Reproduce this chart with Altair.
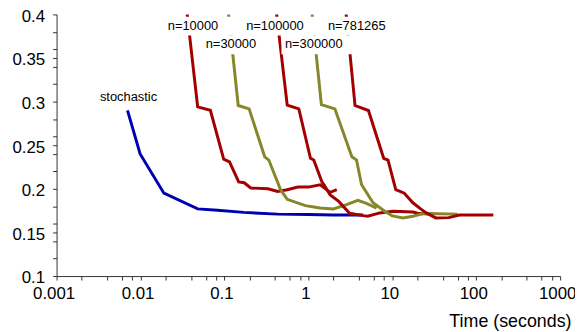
import altair as alt
import pandas as pd

# ---- data -------------------------------------------------------------
series_names = ["stochastic", "n=10000", "n=30000", "n=100000", "n=300000", "n=781265"]
series_colors = ["#0000b0", "#a30000", "#86862a", "#a30000", "#86862a", "#a30000"]

stoch_t = [0.007, 0.0099, 0.019, 0.048, 0.083, 0.17, 0.43, 1.0, 2.0, 4.5]
stoch_v = [0.290, 0.240, 0.195, 0.177, 0.1754, 0.173, 0.171, 0.1705, 0.170, 0.170]

n10k_t = [0.036, 0.048, 0.068, 0.098, 0.115, 0.148, 0.172, 0.206, 0.33, 0.43, 0.56, 0.75, 1.0, 1.38, 1.5, 1.82, 2.18]
n10k_v = [0.400, 0.294, 0.290, 0.234, 0.231, 0.208, 0.207, 0.201, 0.200, 0.197, 0.199, 0.202, 0.202, 0.2045, 0.202, 0.196, 0.199]

n30k_t = [0.112, 0.146, 0.197, 0.302, 0.338, 0.467, 0.56, 0.92, 1.38, 1.99, 2.85, 3.9, 5.0, 6.5]
n30k_v = [0.400, 0.2955, 0.2917, 0.2367, 0.233, 0.199, 0.188, 0.1807, 0.178, 0.177, 0.1818, 0.1867, 0.183, 0.178]

n100k_t = [0.419, 0.56, 0.77, 1.06, 1.16, 1.45, 1.55, 1.82, 2.3, 3.1, 4.5, 5.1, 7.1, 10.2, 17.6, 21.0, 28.0]
n100k_v = [0.400, 0.296, 0.2917, 0.235, 0.233, 0.208, 0.204, 0.193, 0.1856, 0.172, 0.1693, 0.1686, 0.1724, 0.1744, 0.1735, 0.1716, 0.171]

n300k_t = [1.107, 1.43, 2.07, 3.3, 3.75, 4.3, 4.7, 5.9, 8.2, 10.0, 13.4, 17.6, 24.0, 35.0, 60.0]
n300k_v = [0.400, 0.2966, 0.2917, 0.2367, 0.233, 0.205, 0.199, 0.184, 0.174, 0.169, 0.1667, 0.1686, 0.172, 0.1715, 0.171]

n781k_t = [2.82, 3.6, 5.2, 7.9, 8.9, 11.0, 13.9, 17.6, 21.8, 25.4, 33.0, 47.0, 63.0, 90.0, 160.0]
n781k_v = [0.400, 0.2955, 0.2898, 0.235, 0.233, 0.199, 0.195, 0.184, 0.177, 0.1724, 0.1667, 0.167, 0.170, 0.170, 0.170]

label_text = ["stochastic", "n=10000", "n=30000", "n=100000", "n=300000", "n=781265"]
label_t = [0.0072, 0.0422, 0.1196, 0.40, 1.16, 3.77]
label_v = [0.305, 0.387, 0.3656, 0.387, 0.3656, 0.387]

x_domain = [0.001, 1000]
y_domain = [0.1, 0.4]
x_major = [0.001, 0.01, 0.1, 1, 10, 100, 1000]
x_minor = [0.002, 0.004, 0.006, 0.008, 0.02, 0.04, 0.06, 0.08, 0.2, 0.4, 0.6, 0.8,
           2, 4, 6, 8, 20, 40, 60, 80, 200, 400, 600, 800]
y_major = [0.1, 0.15, 0.2, 0.25, 0.3, 0.35, 0.4]
y_minor = [0.12, 0.14, 0.16, 0.18, 0.22, 0.24, 0.26, 0.28, 0.32, 0.34, 0.36, 0.38]

# ---- tables -------------------------------------------------------------
all_t = [stoch_t, n10k_t, n30k_t, n100k_t, n300k_t, n781k_t]
all_v = [stoch_v, n10k_v, n30k_v, n100k_v, n300k_v, n781k_v]
rows = []
for name, ts, vs in zip(series_names, all_t, all_v):
    for t, v in zip(ts, vs):
        rows.append({"series": name, "t": t, "v": v})
df = pd.DataFrame(rows)
labels = pd.DataFrame({"label": label_text, "t": label_t, "v": label_v})

FONT = "Liberation Sans"
AXIS_COLOR = "#333333"
x_is_major = "abs(log(datum.value)/LN10 - round(log(datum.value)/LN10)) < 1e-6"
y_is_major = "abs(datum.value*20 - round(datum.value*20)) < 1e-6"

x_enc = alt.X(
    "t:Q",
    scale=alt.Scale(type="log", domain=x_domain, nice=False),
    axis=alt.Axis(
        values=x_major + x_minor,
        labelExpr=f"{x_is_major} ? format(datum.value, '~g') : ''",
        domain=True,
        ticks=True,
        domainColor=AXIS_COLOR,
        tickColor=AXIS_COLOR,
        domainWidth=1,
        tickWidth=1,
        tickSize=4,
        labelPadding=6,
        labelFontSize=17,
        labelOffset=-3,
        labelFlush=False,
        labelOverlap=False,
        labelColor="black",
        labelFont=FONT,
        grid=False,
        title="Time (seconds)",
        titleAnchor="end",
        titleAlign="right",
        titleX=519,
        titleY=51,
        titleBaseline="alphabetic",
        titleFontSize=18,
        titleFontWeight="normal",
        titleFont=FONT,
        titleColor="black",
    ),
)
y_enc = alt.Y(
    "v:Q",
    scale=alt.Scale(domain=y_domain, nice=False, zero=False),
    axis=alt.Axis(
        values=y_major + y_minor,
        labelExpr=f"{y_is_major} ? format(datum.value, '~g') : ''",
        domain=True,
        ticks=True,
        domainColor=AXIS_COLOR,
        tickColor=AXIS_COLOR,
        domainWidth=1,
        tickWidth=1,
        tickSize=4,
        labelPadding=8,
        labelFontSize=17,
        labelOffset=2,
        labelOverlap=False,
        labelColor="black",
        labelFont=FONT,
        grid=False,
        title=None,
    ),
)

lines = alt.Chart(df).mark_line(strokeWidth=3, clip=True).encode(
    x=x_enc,
    y=y_enc,
    color=alt.Color("series:N", scale=alt.Scale(domain=series_names, range=series_colors), legend=None),
)

box_path = (
    "'M' + (-(length(datum.label)*3.7+3)) + ',-9H' + (length(datum.label)*3.7+14) + "
    "'V10H' + (-(length(datum.label)*3.7+3)) + 'Z'"
)
boxes = alt.Chart(labels).transform_calculate(box=box_path).mark_point(
    filled=True, size=4, opacity=1, color="white", strokeWidth=0
).encode(x=x_enc, y=y_enc, shape=alt.Shape("box:N", scale=None))

texts = alt.Chart(labels).mark_text(
    font=FONT, fontSize=13, color="black", align="center", baseline="middle"
).encode(x=x_enc, y=y_enc, text="label:N")

chart = (
    alt.layer(lines, boxes, texts)
    .properties(
        width=508,
        height=264,
        autosize=alt.AutoSizeParams(type="none"),
        padding={"left": 49, "top": 5, "right": 15, "bottom": 55},
        background="white",
    )
    .configure_view(stroke=None)
)

chart.save("out.html", embed_options={"renderer": "svg", "actions": False})
